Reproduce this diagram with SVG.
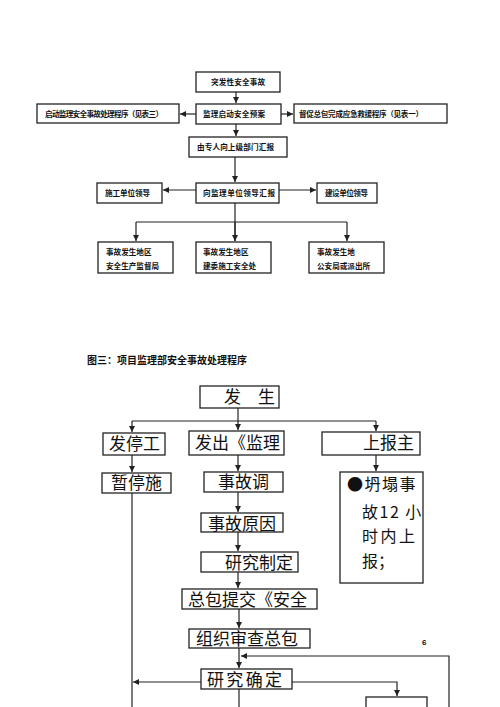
<svg xmlns="http://www.w3.org/2000/svg" width="500" height="707" viewBox="0 0 500 707">
<style>
.bx{fill:#fff;stroke:#222;stroke-width:1.3}
.ln{fill:none;stroke:#222;stroke-width:1.2}
.t1{font-family:"Noto Sans CJK SC","Liberation Sans",sans-serif;font-size:7.6px;font-weight:bold;fill:#111}
.t2{font-family:"Noto Sans CJK SC","Liberation Serif",serif;font-size:17px;fill:#111}
.cap{font-family:"Noto Sans CJK SC","Liberation Sans",sans-serif;font-size:10px;font-weight:bold;fill:#111}
</style>
<defs>
<marker id="ah" markerUnits="userSpaceOnUse" markerWidth="7" markerHeight="6" refX="6" refY="3" orient="auto">
<path d="M0,0 L6,3 L0,6 z" fill="#222"/>
</marker>
</defs>
<rect width="500" height="707" fill="#fff"/>
<g id="connectors">
<path class="ln" d="M236,92 V103" marker-end="url(#ah)"/>
<path class="ln" d="M196,114 H180" marker-end="url(#ah)"/>
<path class="ln" d="M281,114 H293" marker-end="url(#ah)"/>
<path class="ln" d="M236,124 V136" marker-end="url(#ah)"/>
<path class="ln" d="M235,157 V182" marker-end="url(#ah)"/>
<path class="ln" d="M196,190 H163" marker-end="url(#ah)"/>
<path class="ln" d="M279,190 H316" marker-end="url(#ah)"/>
<path class="ln" d="M235,203 V241"/>
<path class="ln" d="M136,222 H347"/>
<path class="ln" d="M235,222 V241" marker-end="url(#ah)"/>
<path class="ln" d="M136,222 V241" marker-end="url(#ah)"/>
<path class="ln" d="M347,222 V241" marker-end="url(#ah)"/>
<path class="ln" d="M238,408 V430" marker-end="url(#ah)"/>
<path class="ln" d="M132,421 H376"/>
<path class="ln" d="M132,421 V432" marker-end="url(#ah)"/>
<path class="ln" d="M376,421 V431" marker-end="url(#ah)"/>
<path class="ln" d="M132,455 V472" marker-end="url(#ah)"/>
<path class="ln" d="M132,493 V707"/>
<path class="ln" d="M238,455 V471" marker-end="url(#ah)"/>
<path class="ln" d="M376,455 V471" marker-end="url(#ah)"/>
<path class="ln" d="M238,492 V512" marker-end="url(#ah)"/>
<path class="ln" d="M238,532 V551" marker-end="url(#ah)"/>
<path class="ln" d="M238,572 V588" marker-end="url(#ah)"/>
<path class="ln" d="M239,609 V628" marker-end="url(#ah)"/>
<path class="ln" d="M239,648 V668" marker-end="url(#ah)"/>
<path class="ln" d="M449,707 V656 H241" marker-end="url(#ah)"/>
<path class="ln" d="M201,682 H133" marker-end="url(#ah)"/>
<path class="ln" d="M292,682 H397 V696" marker-end="url(#ah)"/>
<path class="ln" d="M239,689 V707"/>
</g>
<g id="n1"><rect class="bx" x="196" y="72" width="84" height="20"/><text class="t1" x="211" y="85" textLength="54">突发性安全事故</text></g>
<g id="n2"><rect class="bx" x="196" y="104" width="85" height="20"/><text class="t1" x="203" y="117" textLength="62">监理启动安全预案</text></g>
<g id="n3"><rect class="bx" x="37" y="104" width="142" height="19"/><text class="t1" x="45" y="117" textLength="118">启动监理安全事故处理程序（见表三）</text></g>
<g id="n4"><rect class="bx" x="294" y="104" width="153" height="19"/><text class="t1" x="299" y="117" textLength="124">督促总包完成应急救援程序（见表一）</text></g>
<g id="n5"><rect class="bx" x="189" y="137" width="98" height="20"/><text class="t1" x="197" y="150" textLength="77">由专人向上级部门汇报</text></g>
<g id="n6"><rect class="bx" x="97" y="183" width="65" height="20"/><text class="t1" x="105" y="196" textLength="45">施工单位领导</text></g>
<g id="n7"><rect class="bx" x="196" y="183" width="83" height="20"/><text class="t1" x="203" y="196" textLength="72">向监理单位领导汇报</text></g>
<g id="n8"><rect class="bx" x="317" y="183" width="60" height="20"/><text class="t1" x="325" y="196" textLength="43">建设单位领导</text></g>
<g id="n9"><rect class="bx" x="98" y="242" width="75" height="31"/><text class="t1" x="106" y="255">事故发生地区</text><text class="t1" x="106" y="269">安全生产监督局</text></g>
<g id="n10"><rect class="bx" x="196" y="242" width="75" height="31"/><text class="t1" x="203" y="255">事故发生地区</text><text class="t1" x="203" y="269">建委施工安全处</text></g>
<g id="n11"><rect class="bx" x="309" y="242" width="75" height="31"/><text class="t1" x="317" y="255">事故发生地</text><text class="t1" x="317" y="269">公安局或派出所</text></g>
<text class="cap" x="87" y="364">图三：项目监理部安全事故处理程序</text>
<g id="b1"><rect class="bx" x="200" y="386" width="79" height="22"/><text class="t2" x="224" y="403">发　生</text></g>
<g id="b2"><rect class="bx" x="103" y="433" width="62" height="22"/><text class="t2" x="109" y="450">发停工</text></g>
<g id="b3"><rect class="bx" x="189" y="431" width="95" height="24"/><text class="t2" x="195" y="449">发出《监理</text></g>
<g id="b4"><rect class="bx" x="322" y="432" width="98" height="23"/><text class="t2" x="363" y="449">上报主</text></g>
<g id="b5"><rect class="bx" x="102" y="473" width="69" height="20"/><text class="t2" x="111" y="489">暂停施</text></g>
<g id="b6"><rect class="bx" x="204" y="472" width="79" height="20"/><text class="t2" x="218" y="488">事故调</text></g>
<g id="b7"><rect class="bx" x="201" y="513" width="82" height="19"/><text class="t2" x="208" y="530">事故原因</text></g>
<g id="b8"><rect class="bx" x="201" y="552" width="97" height="20"/><text class="t2" x="225" y="569">研究制定</text></g>
<g id="b9"><rect class="bx" x="340" y="472" width="83" height="111"/>
<text class="t2" style="font-size:16px;letter-spacing:1.5px" x="347" y="490">●坍塌事</text>
<text class="t2" style="font-size:16px;letter-spacing:1.5px" x="362" y="518">故12 小</text>
<text class="t2" style="font-size:16px;letter-spacing:2.5px" x="362" y="542">时内上</text>
<text class="t2" style="font-size:16px" x="362" y="567">报；</text></g>
<g id="b10"><rect class="bx" x="182" y="589" width="135" height="20"/><text class="t2" x="188" y="606">总包提交《安全</text></g>
<g id="b11"><rect class="bx" x="189" y="629" width="121" height="19"/><text class="t2" x="196" y="645">组织审查总包</text></g>
<g id="b12"><rect class="bx" x="201" y="669" width="91" height="20"/><text class="t2" x="207" y="686" textLength="75">研 究 确 定</text></g>
<g id="b13"><rect class="bx" x="366" y="697" width="61" height="20"/></g>
<text x="422" y="645" style="font-family:'Liberation Sans',sans-serif;font-size:8px;font-weight:bold;fill:#111">6</text>
</svg>
